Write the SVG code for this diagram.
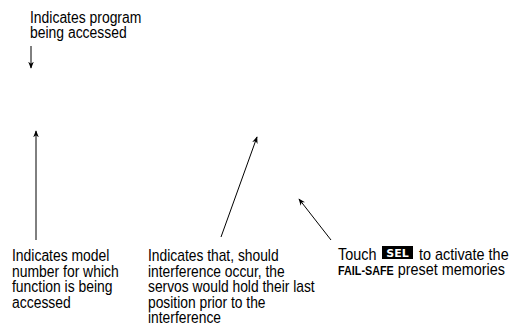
<svg xmlns="http://www.w3.org/2000/svg" width="514" height="331" viewBox="0 0 514 331">
<defs>
<style>
text{font-family:"Liberation Sans",Arial,sans-serif;font-size:16px;fill:#000}
.b{font-weight:bold;font-size:12px}
.sel{font-family:"DejaVu Sans","Liberation Sans",sans-serif;font-weight:bold;font-size:11px;fill:#fff}
line{stroke:#000;stroke-width:1}
</style>
<marker id="ah" viewBox="0 0 10 10" refX="9" refY="5" markerWidth="7" markerHeight="7" orient="auto" markerUnits="userSpaceOnUse">
<path d="M0,1 L10,5 L0,9 L3,5 Z" fill="#000"/>
</marker>
</defs>
<rect width="514" height="331" fill="#fff"/>
<g id="connectors">
<line x1="31" y1="46" x2="31" y2="68" marker-end="url(#ah)"/>
<line x1="36" y1="240" x2="36" y2="131" marker-end="url(#ah)"/>
<line x1="221" y1="237" x2="257" y2="137" marker-end="url(#ah)"/>
<line x1="331" y1="240" x2="299" y2="199" marker-end="url(#ah)"/>
</g>
<g id="label-program" transform="translate(30,0) scale(0.87,1)">
<text x="0" y="23">Indicates program<tspan x="0" dy="15.5">being accessed</tspan></text>
</g>
<g id="label-model" transform="translate(12,0) scale(0.87,1)">
<text x="0" y="261.5">Indicates model<tspan x="0" dy="15.5">number for which</tspan><tspan x="0" dy="15.5">function is being</tspan><tspan x="0" dy="15.5">accessed</tspan></text>
</g>
<g id="label-interference" transform="translate(148,0) scale(0.865,1)">
<text x="0" y="261.5">Indicates that, should<tspan x="0" dy="15.5">interference occur, the</tspan><tspan x="0" dy="15.5">servos would hold their last</tspan><tspan x="0" dy="15.5">position prior to the</tspan><tspan x="0" dy="15.5">interference</tspan></text>
</g>
<g id="label-failsafe">
<rect x="382" y="246" width="31" height="13" fill="#000"/>
<text class="sel" x="397.5" y="256.5" text-anchor="middle">SEL</text>
<g transform="translate(338,0) scale(0.9,1)">
<text x="0" y="260">Touch<tspan x="90" y="260">to activate the</tspan></text>
<text x="0" y="275"><tspan class="b">FAIL-SAFE</tspan> preset memories</text>
</g>
</g>
</svg>
